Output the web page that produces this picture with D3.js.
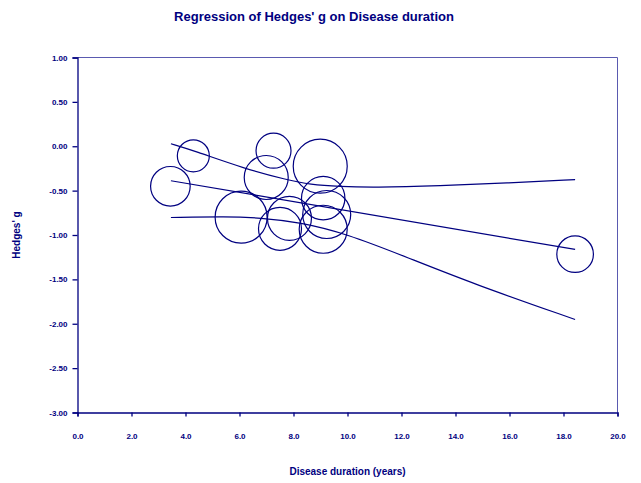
<!DOCTYPE html>
<html>
<head>
<meta charset="utf-8">
<script src="https://cdn.jsdelivr.net/npm/d3@7"></script>
<style>
  body { margin: 0; background: #fff; }
  text { font-family: Arial, "Liberation Sans", sans-serif; font-weight: bold; fill: #000080; }
</style>
</head>
<body>
<div id="chart"></div>
<script>
// studies: disease duration (years), Hedges' g, weight (bubble size)
var duration = [4.29, 3.44, 7.26, 6.99, 8.99, 9.10, 9.23, 9.10, 6.06, 7.85, 7.50, 18.43];
var hedgesG  = [-0.108, -0.451, -0.050, -0.352, -0.225, -0.585, -0.769, -0.935, -0.799, -0.812, -0.930, -1.216];
var weight   = [2.56, 3.92, 3.06, 4.84, 7.29, 4.71, 5.76, 5.76, 6.76, 4.84, 4.62, 3.35];

// regression line ends
var fitX = [3.46, 18.43];
var fitY = [-0.389, -1.163];

// confidence bands
var upperX = [3.46, 4.29, 6.20, 7.75, 8.61, 9.72, 10.96, 13.43, 15.90, 18.43];
var upperY = [0.028, -0.048, -0.254, -0.378, -0.431, -0.454, -0.465, -0.446, -0.414, -0.375];
var lowerX = [3.46, 5.53, 6.76, 8.24, 9.97, 12.19, 14.66, 18.43];
var lowerY = [-0.803, -0.792, -0.806, -0.856, -0.986, -1.250, -1.550, -1.952];

var xTicks = d3.range(0, 20.01, 2);
var yTicks = d3.range(-3, 1.01, 0.5);

var width = 641, height = 483;
var navy = "#000080";

var svg = d3.select("#chart").append("svg")
    .attr("width", width)
    .attr("height", height);

var x = d3.scaleLinear().domain([0, 20]).range([77.5, 617.5]);
var y = d3.scaleLinear().domain([-3, 1]).range([412.5, 57.5]);
var r = d3.scaleSqrt().domain([0, 1]).range([0, 10]);

// plain hyphen for negatives, like the original
var fmt2 = function(d) { return d3.format(".2f")(d).replace("\u2212", "-"); };
var fmt1 = function(d) { return d3.format(".1f")(d); };

// frame: top and right lighter
svg.append("line")
    .attr("x1", x(0)).attr("x2", x(20)).attr("y1", y(1)).attr("y2", y(1))
    .attr("stroke", "#5a5ab0").attr("stroke-width", 1);
svg.append("line")
    .attr("x1", x(20)).attr("x2", x(20)).attr("y1", y(1)).attr("y2", y(-3))
    .attr("stroke", "#5a5ab0").attr("stroke-width", 1);

var yAxis = d3.axisLeft(y).tickValues(yTicks).tickFormat(fmt2).tickSize(5).tickPadding(5);
var gy = svg.append("g").attr("transform", "translate(" + x(0) + ",0)").call(yAxis);
gy.select(".domain").attr("stroke", navy).attr("stroke-width", 1.3);
gy.selectAll(".tick line").attr("stroke", navy).attr("stroke-width", 1.3);
gy.selectAll(".tick text").style("font-size", "8px").attr("fill", navy)
    .style("font-family", "Arial, 'Liberation Sans', sans-serif").style("font-weight", "bold");

var xAxis = d3.axisBottom(x).tickValues(xTicks).tickFormat(fmt1).tickSize(4).tickPadding(17);
var gx = svg.append("g").attr("transform", "translate(0," + y(-3) + ")").call(xAxis);
gx.select(".domain").attr("stroke", navy).attr("stroke-width", 1.3);
gx.selectAll(".tick line").attr("stroke", navy).attr("stroke-width", 1.3);
gx.selectAll(".tick text").style("font-size", "8px").attr("fill", navy)
    .style("font-family", "Arial, 'Liberation Sans', sans-serif").style("font-weight", "bold");

// bubbles
svg.append("g").selectAll("circle")
    .data(duration)
    .enter().append("circle")
    .attr("cx", function(d) { return x(d); })
    .attr("cy", function(d, i) { return y(hedgesG[i]); })
    .attr("r", function(d, i) { return r(weight[i]); })
    .attr("fill", "none")
    .attr("stroke", navy)
    .attr("stroke-width", 1.2);

var line = d3.line()
    .x(function(d) { return x(d[0]); })
    .y(function(d) { return y(d[1]); });

svg.append("path")
    .attr("d", line(d3.zip(fitX, fitY)))
    .attr("fill", "none").attr("stroke", navy).attr("stroke-width", 1.2);

var smooth = d3.line()
    .x(function(d) { return x(d[0]); })
    .y(function(d) { return y(d[1]); })
    .curve(d3.curveBasis);

svg.append("path")
    .attr("d", smooth(d3.zip(upperX, upperY)))
    .attr("fill", "none").attr("stroke", navy).attr("stroke-width", 1.2);
svg.append("path")
    .attr("d", smooth(d3.zip(lowerX, lowerY)))
    .attr("fill", "none").attr("stroke", navy).attr("stroke-width", 1.2);

// titles
svg.append("text")
    .attr("x", 314).attr("y", 21)
    .attr("text-anchor", "middle")
    .style("font-size", "13px")
    .text("Regression of Hedges' g on Disease duration");

svg.append("text")
    .attr("x", 347.5).attr("y", 475)
    .attr("text-anchor", "middle")
    .style("font-size", "10px")
    .text("Disease duration (years)");

svg.append("text")
    .attr("transform", "translate(20," + 235 + ") rotate(-90)")
    .attr("text-anchor", "middle")
    .style("font-size", "10px")
    .text("Hedges' g");
</script>
</body>
</html>
